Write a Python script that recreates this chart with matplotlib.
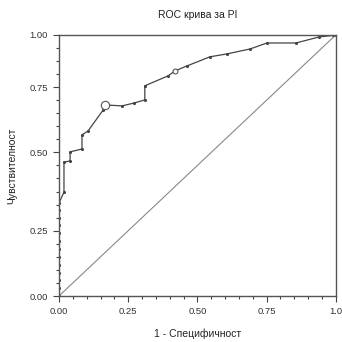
import matplotlib
matplotlib.use("Agg")
import matplotlib.pyplot as plt
from matplotlib.ticker import MultipleLocator

plt.rcParams['font.family'] = ['Liberation Sans', 'DejaVu Sans']

# ROC curve points (1 - specificity, sensitivity)
fpr = [0.0, 0.0, 0.0, 0.0, 0.0, 0.0, 0.0, 0.0, 0.0, 0.0, 0.0, 0.0, 0.0,
       0.018, 0.018, 0.040, 0.040, 0.083, 0.083, 0.105, 0.160, 0.166,
       0.227, 0.271, 0.310, 0.310, 0.394, 0.419, 0.462, 0.545, 0.606,
       0.690, 0.751, 0.856, 0.939, 0.989, 1.0]
tpr = [0.0, 0.03, 0.06, 0.09, 0.12, 0.15, 0.18, 0.21, 0.24, 0.27, 0.30, 0.33, 0.356,
       0.398, 0.513, 0.517, 0.552, 0.563, 0.617, 0.632, 0.713, 0.732,
       0.728, 0.739, 0.751, 0.805, 0.843, 0.862, 0.881, 0.916, 0.927,
       0.946, 0.969, 0.969, 0.992, 0.998, 1.0]
# highlighted cut-off points
cut_x = [0.166, 0.419]
cut_y = [0.732, 0.862]
cut_size = [6, 3.5]

xticks = [0.0, 0.25, 0.5, 0.75, 1.0]
xlabels = ['0.00', '0.25', '0.50', '0.75', '1.0']
# the y labels in the source sit on these minor-tick positions
yticks = [0.0, 0.25, 0.55, 0.80, 1.0]
ylabels = ['0.00', '0.25', '0.50', '0.75', '1.00']

fig = plt.figure(figsize=(3.42, 3.42), dpi=100)
ax = fig.add_axes([0.1725, 0.1345, 0.8095, 0.7635])

ax.plot([0, 1], [0, 1], color='#888888', lw=0.8)
ax.plot(fpr, tpr, color='#444444', lw=0.9, marker='.', ms=2.5)
for x, y, s in zip(cut_x, cut_y, cut_size):
    ax.plot(x, y, marker='o', ms=s, mfc='white', mec='#555555', mew=0.8)

ax.set_xlim(0, 1)
ax.set_ylim(0, 1)
ax.set_xticks(xticks)
ax.set_xticklabels(xlabels)
ax.set_yticks(yticks)
ax.set_yticklabels(ylabels)
ax.xaxis.set_minor_locator(MultipleLocator(0.05))
ax.yaxis.set_minor_locator(MultipleLocator(0.05))
ax.tick_params(which='both', direction='out', color='#444444', width=0.8,
               labelsize=6.8, labelcolor='#333333')
ax.tick_params(which='major', length=4, pad=4)
ax.tick_params(which='minor', length=2.5)
for sp in ax.spines.values():
    sp.set_color('#555555')
    sp.set_linewidth(1.0)

ax.set_title('ROC крива за PI', fontsize=7.5, color='#222222', pad=12)
ax.set_xlabel('1 - Специфичност', fontsize=7.5, color='#222222', labelpad=9)
ax.set_ylabel('Чувствителност', fontsize=7.5, color='#222222', labelpad=9)

fig.savefig('out.png', dpi=100)
